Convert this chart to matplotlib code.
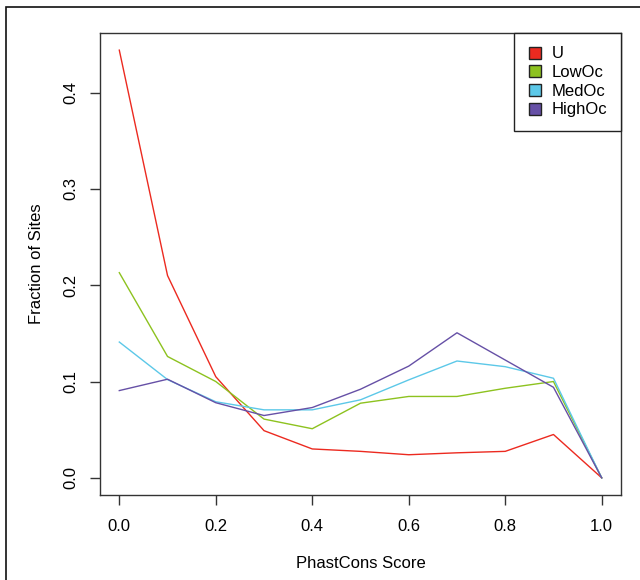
import matplotlib
matplotlib.use("Agg")
import matplotlib.pyplot as plt
from matplotlib.patches import Rectangle
from matplotlib.lines import Line2D

plt.rcParams['font.family'] = ['Liberation Sans', 'DejaVu Sans']

scores = [0.0, 0.1, 0.2, 0.3, 0.4, 0.5, 0.6, 0.7, 0.8, 0.9, 1.0]
u_vals = [0.444, 0.210, 0.105, 0.049, 0.030, 0.0275, 0.024, 0.026, 0.0275, 0.045, 0.0]
low_vals = [0.213, 0.126, 0.100, 0.061, 0.051, 0.0775, 0.0845, 0.0845, 0.093, 0.100, 0.0]
med_vals = [0.141, 0.102, 0.079, 0.0706, 0.0706, 0.081, 0.1017, 0.1213, 0.1154, 0.1034, 0.0]
high_vals = [0.0906, 0.1024, 0.078, 0.0647, 0.073, 0.092, 0.116, 0.1506, 0.1223, 0.094, 0.0]

series_names = ["U", "LowOc", "MedOc", "HighOc"]
series_colors = ["#ec2a20", "#8dc21f", "#5cc8e8", "#6650a6"]
x_ticks = [0.0, 0.2, 0.4, 0.6, 0.8, 1.0]
y_ticks = [0.0, 0.1, 0.2, 0.3, 0.4]

fig = plt.figure(figsize=(6.4, 5.8), dpi=100)
ax = fig.add_axes([100/640, 1 - 495/580, 521/640, 462/580])

for vals, col in zip([u_vals, low_vals, med_vals, high_vals], series_colors):
    ax.plot(scores, vals, color=col, lw=1.0)

ax.set_xlim(-0.04, 1.04)
ax.set_ylim(-0.0178, 0.4618)
ax.set_xticks(x_ticks)
ax.set_xticklabels([f"{t:.1f}" for t in x_ticks])
ax.set_yticks(y_ticks)
ax.set_yticklabels([f"{t:.1f}" for t in y_ticks], rotation=90, va='center')
ax.tick_params(axis='both', length=7.5, width=1.0, color='#333333', labelsize=12)
ax.tick_params(axis='x', pad=9.5)
ax.tick_params(axis='y', pad=7.8)
for s in ax.spines.values():
    s.set_linewidth(1.0)
    s.set_color('#333333')
ax.set_xlabel("PhastCons Score", fontsize=12, labelpad=16)
ax.set_ylabel("Fraction of Sites", fontsize=12, labelpad=14)

handles = [Line2D([], [], marker='s', linestyle='none', markersize=9,
                  markerfacecolor=c, markeredgecolor='#222222', markeredgewidth=1.0)
           for c in series_colors]
leg = ax.legend(handles, series_names, loc='upper right', bbox_to_anchor=(1.0, 1.0),
                borderaxespad=0, fancybox=False, edgecolor='#222222', framealpha=1,
                fontsize=12, handlelength=0.9, handletextpad=0.6, labelspacing=0.22,
                borderpad=0.8)
leg.get_frame().set_linewidth(1.0)

# outer border (left and top visible)
fig.add_artist(Rectangle((6/640, -0.1), 1.0, 1.1 - 7/580, transform=fig.transFigure,
                         fill=False, edgecolor='#111111', lw=1.2))

fig.savefig("out.png", dpi=100)
